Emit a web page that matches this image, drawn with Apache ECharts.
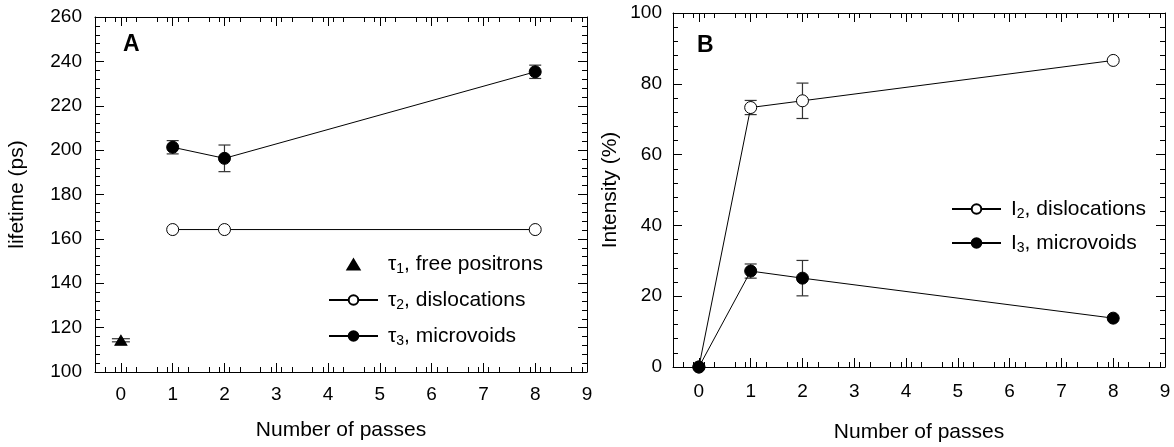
<!DOCTYPE html>
<html>
<head>
<meta charset="utf-8">
<script src="https://cdn.jsdelivr.net/npm/echarts@6/dist/echarts.min.js"></script>
<style>
  html, body { margin: 0; padding: 0; background: #fff; }
  #chart { width: 1174px; height: 447px; }
</style>
</head>
<body>
<div id="chart"></div>
<script>
// panel A: lifetimes (ps)
const passesTau1 = [0];
const tau1 = [114.3];
const tau1Err = [0.7];
const passesA = [1, 2, 8];
const tau2 = [164.2, 164.2, 164.2];
const tau3 = [201.3, 196.3, 235.3];
const tau3Err = [3, 6, 3];

// panel B: intensities (%)
const passesB = [0, 1, 2, 8];
const int2 = [0, 73.3, 75.2, 86.6];
const int2Err = [0, 2, 5, 0];
const int3 = [0, 27.1, 25.1, 13.8];
const int3Err = [0, 2, 5, 0];

const xTicks = [0, 1, 2, 3, 4, 5, 6, 7, 8, 9];
const yTicksA = { min: 100, max: 260, interval: 20 };
const yTicksB = { min: 0, max: 100, interval: 20 };

const font = 'Liberation Sans, Arial, sans-serif';

function pairs(xs, ys) {
  return xs.map((x, i) => [x, ys[i]]);
}
function errRows(xs, ys, es) {
  return xs.map((x, i) => [x, ys[i] - es[i], ys[i] + es[i]]).filter((r, i) => es[i] > 0);
}

// vertical error bars with caps, placed through the axis scales
function errSeries(rows, xi, yi, capHalf) {
  return {
    type: 'custom',
    xAxisIndex: xi,
    yAxisIndex: yi,
    silent: true,
    z: 1,
    data: rows,
    encode: { x: 0, y: [1, 2] },
    renderItem: function (params, api) {
      const lo = api.coord([api.value(0), api.value(1)]);
      const hi = api.coord([api.value(0), api.value(2)]);
      const st = { stroke: '#333', lineWidth: 1.2 };
      return {
        type: 'group',
        children: [
          { type: 'line', shape: { x1: lo[0], y1: lo[1], x2: hi[0], y2: hi[1] }, style: st },
          { type: 'line', shape: { x1: lo[0] - capHalf, y1: lo[1], x2: lo[0] + capHalf, y2: lo[1] }, style: st },
          { type: 'line', shape: { x1: hi[0] - capHalf, y1: hi[1], x2: hi[0] + capHalf, y2: hi[1] }, style: st }
        ]
      };
    }
  };
}

function xAxisDef(gi, pos, labels, margin, gap) {
  return {
    type: 'value', gridIndex: gi, position: pos, min: -0.5, max: 9, interval: 1,
    axisLine: { onZero: false, lineStyle: { color: '#000', width: 1 } },
    axisTick: { inside: true, length: 9, lineStyle: { color: '#000' }, customValues: xTicks },
    minorTick: { show: true, splitNumber: 5, length: 5, lineStyle: { color: '#000' } },
    axisLabel: { show: labels, color: '#000', fontSize: 19, fontFamily: font, margin: margin,
      customValues: xTicks },
    splitLine: { show: false },
    name: labels ? 'Number of passes' : '',
    nameLocation: 'middle', nameGap: gap,
    nameTextStyle: { color: '#000', fontSize: 21, fontFamily: font }
  };
}

function yAxisDef(gi, pos, t, labels, name, margin, gap) {
  return {
    type: 'value', gridIndex: gi, position: pos, min: t.min, max: t.max, interval: t.interval,
    axisLine: { onZero: false, lineStyle: { color: '#000', width: 1 } },
    axisTick: { inside: true, length: 9, lineStyle: { color: '#000' } },
    minorTick: { show: true, splitNumber: 5, length: 5, lineStyle: { color: '#000' } },
    axisLabel: { show: labels, color: '#000', fontSize: 19, fontFamily: font, margin: margin },
    splitLine: { show: false },
    name: labels ? name : '',
    nameLocation: 'middle', nameGap: gap,
    nameTextStyle: { color: '#000', fontSize: 21, fontFamily: font }
  };
}

const sub = {
  t: { fontSize: 21, fontFamily: font, color: '#000', lineHeight: 24 },
  s: { fontSize: 14, fontFamily: font, color: '#000', lineHeight: 14, padding: [10, 0, 0, 0] }
};
const legendLabels = {
  tau1: '{t|τ}{s|1}{t|, free positrons}',
  tau2: '{t|τ}{s|2}{t|, dislocations}',
  tau3: '{t|τ}{s|3}{t|, microvoids}',
  I2: '{t|I}{s|2}{t|, dislocations}',
  I3: '{t|I}{s|3}{t|, microvoids}'
};
// small triangle centred in a 49x12 box so the legend does not stretch it
const triIcon = 'path://M0,0M49,12M24.5,1.5L30.5,11.5L18.5,11.5Z';

const lineStyle = { color: '#000', width: 1 };
const openMarker = { color: '#fff', borderColor: '#000', borderWidth: 1, opacity: 1 };
const fullMarker = { color: '#000', borderColor: '#000', borderWidth: 1, opacity: 1 };

const option = {
  animation: false,
  backgroundColor: '#fff',
  grid: [
    { left: 95, top: 17, right: 587, bottom: 75, outerBoundsMode: 'none' },
    { left: 673, top: 13, right: 9, bottom: 80, outerBoundsMode: 'none' }
  ],
  xAxis: [
    xAxisDef(0, 'bottom', true, 13, 48),
    xAxisDef(0, 'top', false, 13, 48),
    xAxisDef(1, 'bottom', true, 15, 55),
    xAxisDef(1, 'top', false, 15, 55)
  ],
  yAxis: [
    yAxisDef(0, 'left', yTicksA, true, 'lifetime (ps)', 13, 67),
    yAxisDef(0, 'right', yTicksA, false, '', 13, 67),
    yAxisDef(1, 'left', yTicksB, true, 'Intensity (%)', 11, 52),
    yAxisDef(1, 'right', yTicksB, false, '', 11, 52)
  ],
  legend: [
    {
      data: [{ name: 'tau1', icon: triIcon }, 'tau2', 'tau3'],
      orient: 'vertical', left: 323, top: 247,
      itemWidth: 49, itemHeight: 12, itemGap: 12,
      formatter: n => legendLabels[n],
      textStyle: { rich: sub, padding: [0, 0, 0, 5] }
    },
    {
      data: ['I2', 'I3'],
      orient: 'vertical', left: 946, top: 192,
      itemWidth: 49, itemHeight: 12, itemGap: 10,
      formatter: n => legendLabels[n],
      textStyle: { rich: sub, padding: [0, 0, 0, 5] }
    }
  ],
  graphic: [
    { type: 'text', left: 123, top: 33, style: { text: 'A', fontSize: 23, fontWeight: 'bold', fontFamily: font, fill: '#000' } },
    { type: 'text', left: 697, top: 34, style: { text: 'B', fontSize: 23, fontWeight: 'bold', fontFamily: font, fill: '#000' } }
  ],
  series: [
    errSeries(errRows(passesTau1, tau1, tau1Err), 0, 0, 9),
    errSeries(errRows(passesA, tau3, tau3Err), 0, 0, 6),
    {
      name: 'tau1', type: 'scatter', xAxisIndex: 0, yAxisIndex: 0,
      symbol: 'triangle', symbolSize: [12, 10], z: 3,
      itemStyle: fullMarker, data: pairs(passesTau1, tau1)
    },
    {
      name: 'tau2', type: 'line', xAxisIndex: 0, yAxisIndex: 0,
      symbol: 'circle', symbolSize: 12, showAllSymbol: true, z: 3,
      lineStyle: lineStyle, itemStyle: openMarker, data: pairs(passesA, tau2)
    },
    {
      name: 'tau3', type: 'line', xAxisIndex: 0, yAxisIndex: 0,
      symbol: 'circle', symbolSize: 12, z: 3,
      lineStyle: lineStyle, itemStyle: fullMarker, data: pairs(passesA, tau3)
    },
    errSeries(errRows(passesB, int2, int2Err), 2, 2, 6),
    errSeries(errRows(passesB, int3, int3Err), 2, 2, 6),
    {
      name: 'I2', type: 'line', xAxisIndex: 2, yAxisIndex: 2,
      symbol: 'circle', symbolSize: 12, z: 3,
      lineStyle: lineStyle, itemStyle: openMarker, data: pairs(passesB, int2)
    },
    {
      name: 'I3', type: 'line', xAxisIndex: 2, yAxisIndex: 2,
      symbol: 'circle', symbolSize: 12, z: 4,
      lineStyle: lineStyle, itemStyle: fullMarker, data: pairs(passesB, int3)
    }
  ]
};

const chart = echarts.init(document.getElementById('chart'));
chart.setOption(option);
</script>
</body>
</html>
